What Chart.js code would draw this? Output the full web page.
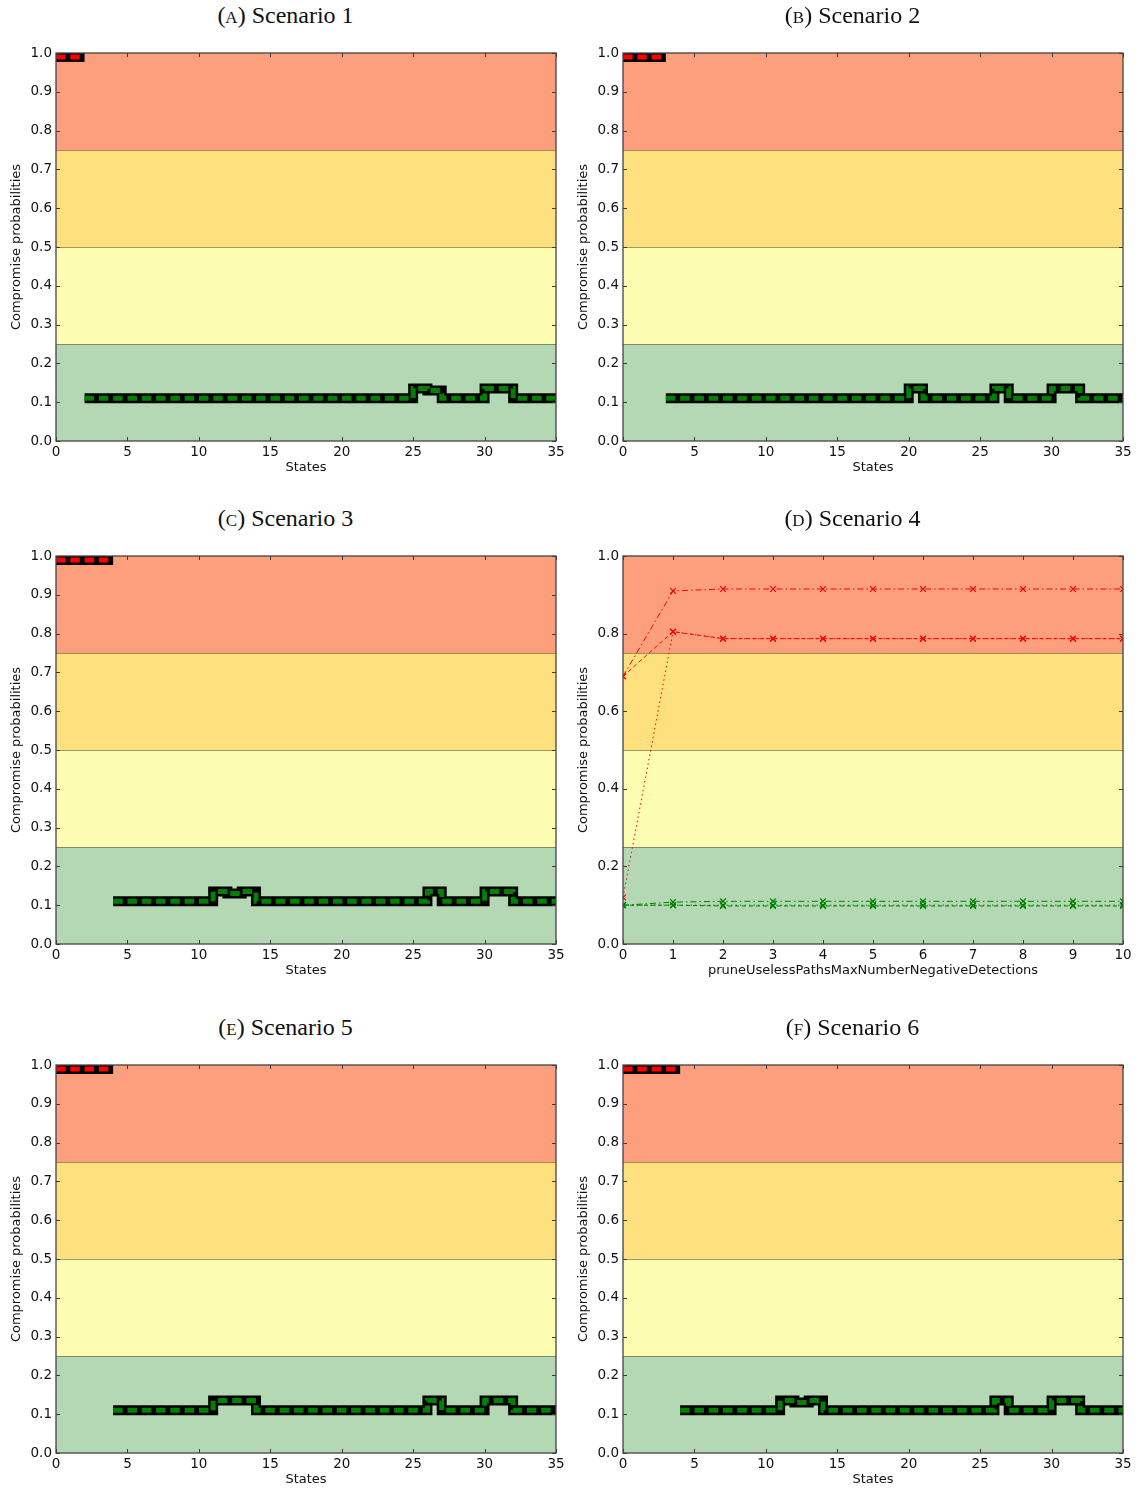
<!DOCTYPE html>
<html>
<head>
<meta charset="utf-8">
<script src="https://cdn.jsdelivr.net/npm/chart.js@4/dist/chart.umd.min.js"></script>
<style>
  body { margin: 0; background: #fff; }
  #page { position: relative; width: 1142px; height: 1488px; }
  canvas { position: absolute; }
  .caption {
    position: absolute; width: 571px; text-align: center;
    font-family: "Liberation Serif", "DejaVu Serif", serif; font-size: 24px; color: #111;
    line-height: 26px;
  }
  .sc { font-variant: small-caps; }
</style>
</head>
<body>
<div id="page"></div>
<script>
// compromise probability per state (state i spans [i, i+1])
const scenario1 = [0.99, 0.99,
  0.11, 0.11, 0.11, 0.11, 0.11, 0.11, 0.11, 0.11, 0.11, 0.11, 0.11, 0.11,
  0.11, 0.11, 0.11, 0.11, 0.11, 0.11, 0.11, 0.11, 0.11, 0.11, 0.11,
  0.135, 0.13, 0.11, 0.11, 0.11, 0.135, 0.135, 0.11, 0.11, 0.11];
const scenario2 = [0.99, 0.99, 0.99,
  0.11, 0.11, 0.11, 0.11, 0.11, 0.11, 0.11, 0.11, 0.11, 0.11, 0.11, 0.11,
  0.11, 0.11, 0.11, 0.11, 0.11, 0.135, 0.11, 0.11, 0.11, 0.11, 0.11,
  0.135, 0.11, 0.11, 0.11, 0.135, 0.135, 0.11, 0.11, 0.11];
const scenario3 = [0.99, 0.99, 0.99, 0.99,
  0.11, 0.11, 0.11, 0.11, 0.11, 0.11, 0.11, 0.135, 0.13, 0.135,
  0.11, 0.11, 0.11, 0.11, 0.11, 0.11, 0.11, 0.11, 0.11, 0.11, 0.11, 0.11,
  0.135, 0.11, 0.11, 0.11, 0.135, 0.135, 0.11, 0.11, 0.11];
const scenario5 = [0.99, 0.99, 0.99, 0.99,
  0.11, 0.11, 0.11, 0.11, 0.11, 0.11, 0.11, 0.135, 0.135, 0.135,
  0.11, 0.11, 0.11, 0.11, 0.11, 0.11, 0.11, 0.11, 0.11, 0.11, 0.11, 0.11,
  0.135, 0.11, 0.11, 0.11, 0.135, 0.135, 0.11, 0.11, 0.11];
const scenario6 = [0.99, 0.99, 0.99, 0.99,
  0.11, 0.11, 0.11, 0.11, 0.11, 0.11, 0.11, 0.135, 0.13, 0.135,
  0.11, 0.11, 0.11, 0.11, 0.11, 0.11, 0.11, 0.11, 0.11, 0.11, 0.11, 0.11,
  0.135, 0.11, 0.11, 0.11, 0.135, 0.135, 0.11, 0.11, 0.11];

// scenario 4: sweep over the pruning parameter
const detections = [0, 1, 2, 3, 4, 5, 6, 7, 8, 9, 10];
const redDashDot = [0.69, 0.91, 0.915, 0.915, 0.915, 0.915, 0.915, 0.915, 0.915, 0.915, 0.915];
const redDashed = [0.69, 0.805, 0.787, 0.787, 0.787, 0.787, 0.787, 0.787, 0.787, 0.787, 0.787];
const redDotted = [0.12, 0.805, 0.787, 0.787, 0.787, 0.787, 0.787, 0.787, 0.787, 0.787, 0.787];
const greenDashDot = [0.1, 0.108, 0.11, 0.11, 0.11, 0.11, 0.11, 0.11, 0.11, 0.11, 0.11];
const greenDashed = [0.1, 0.1, 0.098, 0.098, 0.098, 0.098, 0.098, 0.098, 0.098, 0.098, 0.098];
const greenDotted = [0.1, 0.1, 0.1, 0.1, 0.1, 0.1, 0.1, 0.1, 0.1, 0.1, 0.1];

const stateTicks = [0, 5, 10, 15, 20, 25, 30, 35];
const bandEdges = [0, 0.25, 0.5, 0.75, 1.0];
const bandColors = ['#b3d8b3', '#fdfdb2', '#fee07f', '#fd9f7c'];

const RED = '#ff0000';
const GREEN = '#007f00';

// background risk bands, then frame and inward ticks on all four sides
const riskBands = {
  id: 'riskBands',
  beforeDatasetsDraw(chart) {
    const { ctx, chartArea: a, scales: { y } } = chart;
    ctx.save();
    for (let i = 0; i < bandColors.length; i++) {
      const top = y.getPixelForValue(bandEdges[i + 1]);
      const bot = y.getPixelForValue(bandEdges[i]);
      ctx.fillStyle = bandColors[i];
      ctx.fillRect(a.left, top, a.right - a.left, bot - top);
    }
    ctx.strokeStyle = 'rgba(90,70,40,0.55)';
    ctx.lineWidth = 1;
    for (let i = 1; i < bandEdges.length - 1; i++) {
      const py = Math.round(y.getPixelForValue(bandEdges[i])) + 0.5;
      ctx.beginPath(); ctx.moveTo(a.left, py); ctx.lineTo(a.right, py); ctx.stroke();
    }
    ctx.restore();
  },
  afterDraw(chart) {
    const { ctx, chartArea: a, scales: { x, y } } = chart;
    ctx.save();
    ctx.strokeStyle = '#3a3a3a';
    ctx.lineWidth = 1;
    x.ticks.forEach(t => {
      const px = Math.round(x.getPixelForValue(t.value)) + 0.5;
      ctx.beginPath();
      ctx.moveTo(px, a.bottom); ctx.lineTo(px, a.bottom - 4);
      ctx.moveTo(px, a.top); ctx.lineTo(px, a.top + 4);
      ctx.stroke();
    });
    y.ticks.forEach(t => {
      const py = Math.round(y.getPixelForValue(t.value)) + 0.5;
      ctx.beginPath();
      ctx.moveTo(a.left, py); ctx.lineTo(a.left + 4, py);
      ctx.moveTo(a.right, py); ctx.lineTo(a.right - 4, py);
      ctx.stroke();
    });
    ctx.strokeStyle = '#444';
    ctx.lineWidth = 1.3;
    ctx.strokeRect(a.left, a.top, a.right - a.left, a.bottom - a.top);
    ctx.restore();
  }
};

// points for a steps-post line keeping only the states that pass `keep`
function stepSeries(values, keep) {
  const pts = [];
  for (let i = 0; i <= values.length; i++) {
    if (i < values.length && keep(values[i])) pts.push({ x: i, y: values[i] });
    else if (i > 0 && keep(values[i - 1])) pts.push({ x: i, y: values[i - 1] });
    else pts.push({ x: i, y: null });
  }
  return pts;
}

function stepDatasets(values) {
  const high = v => v >= 0.75;
  const low = v => v < 0.75;
  // Chart.js 'before' keeps the previous value until the next x
  const base = { stepped: 'before', pointRadius: 0, spanGaps: false, clip: 0, fill: false };
  return [
    Object.assign({ data: stepSeries(values, high), borderColor: RED, borderWidth: 5,
      borderDash: [9.5, 4.8], borderCapStyle: 'butt', order: 1 }, base),
    Object.assign({ data: stepSeries(values, low), borderColor: GREEN, borderWidth: 5,
      borderDash: [9.5, 4.8], borderCapStyle: 'butt', order: 1 }, base),
    Object.assign({ data: stepSeries(values, high), borderColor: '#000', borderWidth: 10,
      borderJoinStyle: 'miter', borderCapStyle: 'butt', order: 2 }, base),
    Object.assign({ data: stepSeries(values, low), borderColor: '#000', borderWidth: 10,
      borderJoinStyle: 'miter', borderCapStyle: 'butt', order: 2 }, base)
  ];
}

function sweepDataset(values, color, dash) {
  return {
    data: detections.map((d, i) => ({ x: d, y: values[i] })),
    borderColor: color, borderWidth: 1, borderDash: dash,
    pointStyle: 'crossRot', pointRadius: 4, pointBorderColor: color,
    pointBorderWidth: 1.2, pointBackgroundColor: color, clip: 0, fill: false
  };
}

const tickFont = { family: 'DejaVu Sans', size: 13.5 };

function makeChart(opts) {
  const page = document.getElementById('page');
  const cv = document.createElement('canvas');
  cv.width = 571; cv.height = 456;
  cv.style.left = opts.left + 'px';
  cv.style.top = opts.top + 'px';
  page.appendChild(cv);

  const cap = document.createElement('div');
  cap.className = 'caption';
  cap.style.left = opts.left + 'px';
  cap.style.top = (opts.top - 28) + 'px';
  cap.innerHTML = '<span class="sc">(' + opts.letter + ')</span> ' + opts.title;
  page.appendChild(cap);

  new Chart(cv, {
    type: 'line',
    data: { datasets: opts.datasets },
    options: {
      responsive: false,
      animation: false,
      devicePixelRatio: 1,
      layout: { autoPadding: false, padding: { top: 23, right: 15, left: 0, bottom: 0 } },
      plugins: { legend: { display: false }, tooltip: { enabled: false } },
      scales: {
        x: {
          type: 'linear', min: opts.xMin, max: opts.xMax,
          afterBuildTicks: s => { s.ticks = opts.xTicks.map(v => ({ value: v })); },
          afterFit: s => { s.height = 45; },
          grid: { display: false, drawTicks: false },
          border: { display: false },
          ticks: { font: tickFont, color: '#111', padding: 3, maxRotation: 0,
            callback: v => String(v) },
          title: { display: true, text: opts.xTitle, color: '#111',
            font: { family: 'DejaVu Sans', size: 13 }, padding: { top: 0, bottom: 11 } }
        },
        y: {
          min: 0, max: 1,
          afterBuildTicks: s => { s.ticks = opts.yTicks.map(v => ({ value: v })); },
          afterFit: s => { s.width = 56; },
          grid: { display: false, drawTicks: false },
          border: { display: false },
          ticks: { font: tickFont, color: '#111', padding: 4, callback: v => v.toFixed(1) },
          title: { display: true, text: 'Compromise probabilities', color: '#111',
            font: { family: 'DejaVu Sans', size: 13 }, padding: { top: 9, bottom: 0 } }
        }
      }
    },
    plugins: [riskBands]
  });
}

const yFine = [0, 0.1, 0.2, 0.3, 0.4, 0.5, 0.6, 0.7, 0.8, 0.9, 1.0];
const yCoarse = [0, 0.2, 0.4, 0.6, 0.8, 1.0];

const stepPanel = (letter, title, left, top, values) => makeChart({
  letter, title, left, top, xMin: 0, xMax: 35, xTicks: stateTicks, yTicks: yFine,
  xTitle: 'States', datasets: stepDatasets(values)
});

stepPanel('a', 'Scenario 1', 0, 30, scenario1);
stepPanel('b', 'Scenario 2', 567, 30, scenario2);
stepPanel('c', 'Scenario 3', 0, 533, scenario3);
makeChart({
  letter: 'd', title: 'Scenario 4', left: 567, top: 533, xMin: 0, xMax: 10,
  xTicks: detections, yTicks: yCoarse,
  xTitle: 'pruneUselessPathsMaxNumberNegativeDetections',
  datasets: [
    sweepDataset(redDashDot, RED, [6, 3, 1.5, 3]),
    sweepDataset(redDashed, RED, [4, 3]),
    sweepDataset(redDotted, RED, [1.5, 3]),
    sweepDataset(greenDashDot, GREEN, [6, 3, 1.5, 3]),
    sweepDataset(greenDashed, GREEN, [4, 3]),
    sweepDataset(greenDotted, GREEN, [1.5, 3])
  ]
});
stepPanel('e', 'Scenario 5', 0, 1042, scenario5);
stepPanel('f', 'Scenario 6', 567, 1042, scenario6);
</script>
</body>
</html>
